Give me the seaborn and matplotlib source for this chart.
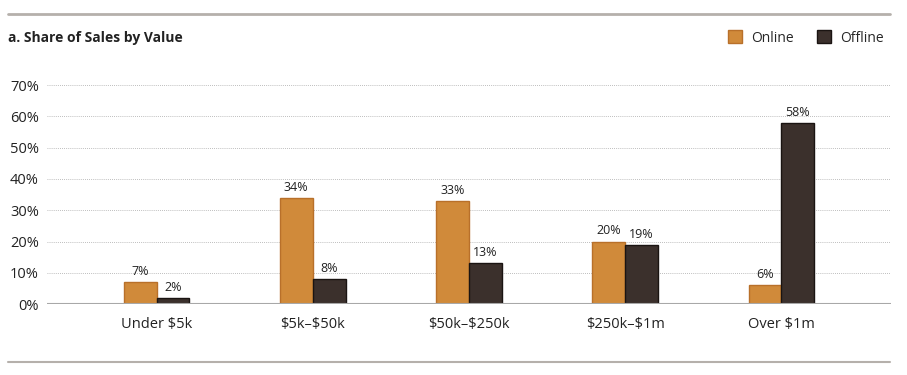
import matplotlib
matplotlib.use("Agg")
import matplotlib.pyplot as plt
import seaborn as sns
import pandas as pd
from matplotlib.patches import Patch
from matplotlib.lines import Line2D

categories = ["Under $5k", "$5k–$50k", "$50k–$250k", "$250k–$1m", "Over $1m"]
online = [7, 34, 33, 20, 6]
offline = [2, 8, 13, 19, 58]
series = ["Online", "Offline"]
yticks = [0, 10, 20, 30, 40, 50, 60, 70]

df = pd.DataFrame({
    "cat": categories * 2,
    "val": online + offline,
    "series": ["Online"] * len(categories) + ["Offline"] * len(categories),
})

sns.set_theme(style="white")
plt.rcParams["font.family"] = ["Open Sans", "DejaVu Sans"]
plt.rcParams["text.parse_math"] = False

c_on = "#D08A3A"
c_off = "#3B302C"

fig = plt.figure(figsize=(9.07, 3.75), dpi=100)
ax = fig.add_axes([0.052, 0.189, 0.930, 0.584])

sns.barplot(data=df, x="cat", y="val", hue="series", order=categories,
            hue_order=series, palette=[c_on, c_off], width=0.42, gap=0,
            ax=ax, legend=False, saturation=1)
for bar_container, ec in zip(ax.containers, ["#B8702A", "#1A1412"]):
    for b in bar_container:
        b.set_edgecolor(ec)
        b.set_linewidth(1.0)
    ax.bar_label(bar_container, fmt="%d%%", padding=3, fontsize=9, color="#222222")

ax.set_xlim(-0.7, 4.7)
ax.set_ylim(0, 70)
ax.set_yticks(yticks)
ax.set_yticklabels([f"{v}%" for v in yticks], fontsize=10.5, color="#222222")
ax.tick_params(axis="x", labelsize=10.5, colors="#222222", length=0, pad=9)
ax.tick_params(axis="y", length=0, pad=6)
ax.set_xlabel("")
ax.set_ylabel("")
for s in ax.spines.values():
    s.set_visible(False)
ax.yaxis.grid(True, linestyle=(0, (1, 1.5)), color="#a8a8a8", linewidth=0.6)
ax.set_axisbelow(True)
ax.axhline(0, color="#a8a8a8", linewidth=1.5, zorder=3)

# frame lines
fig.add_artist(Line2D([8 / 907, 890 / 907], [1 - 14 / 375, 1 - 14 / 375],
                      color="#b5b0ab", linewidth=2))
fig.add_artist(Line2D([8 / 907, 890 / 907], [1 - 362 / 375, 1 - 362 / 375],
                      color="#b5b0ab", linewidth=1.5))

fig.text(8 / 907, 1 - 38 / 375, "a. Share of Sales by Value", fontsize=10,
         fontweight="bold", va="center", ha="left", color="#222222")

handles = [Patch(facecolor=c_on, edgecolor="#B8702A", label="Online"),
           Patch(facecolor=c_off, edgecolor="#1A1412", label="Offline")]
fig.legend(handles=handles, loc="center right", bbox_to_anchor=(889 / 907, 1 - 38 / 375),
           ncol=2, frameon=False, fontsize=10, handlelength=1.05, handleheight=1.05,
           handletextpad=0.6, columnspacing=1.7, borderaxespad=0)

fig.savefig("out.png", dpi=100)
